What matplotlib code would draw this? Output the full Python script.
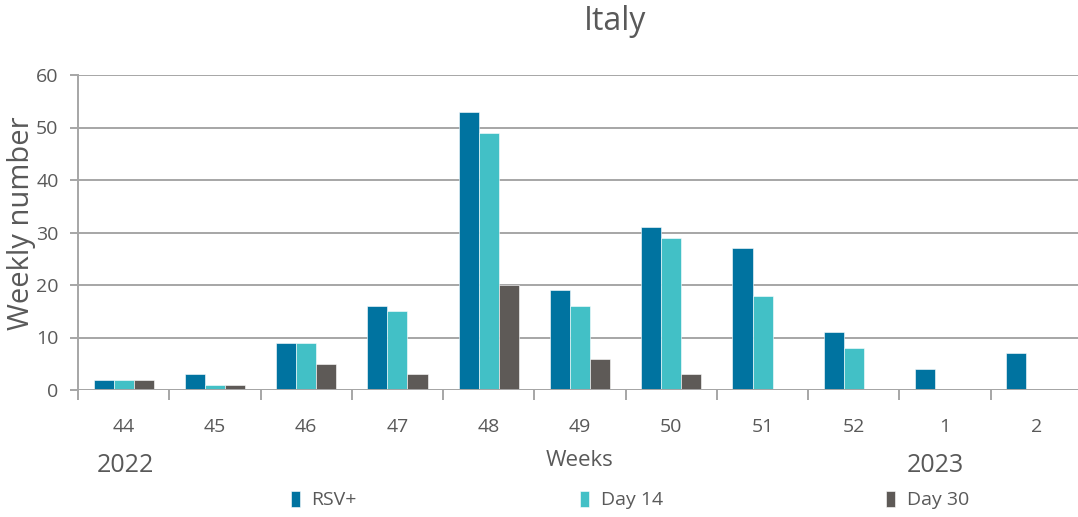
import matplotlib
matplotlib.use("Agg")
import matplotlib.pyplot as plt
import numpy as np

weeks = ["44", "45", "46", "47", "48", "49", "50", "51", "52", "1", "2"]
rsv_pos = [2, 3, 9, 16, 53, 19, 31, 27, 11, 4, 7]
day14 = [2, 1, 9, 15, 49, 16, 29, 18, 8, 0, 0]
day30 = [2, 1, 5, 3, 20, 6, 3, 0, 0, 0, 0]
series_names = ["RSV+", "Day 14", "Day 30"]
colors = ["#0073A0", "#42C0C6", "#5E5A57"]

plt.rcParams['font.family'] = ['Open Sans', 'DejaVu Sans']
txt = "#595959"

fig = plt.figure(figsize=(10.78, 5.17), dpi=100)
W, H = 1078, 517
ax = fig.add_axes([78 / W, 1 - 390 / H, 1004 / W, 315 / H])

x = np.arange(len(weeks))
bw = 0.22
for i, (vals, name, c) in enumerate(zip([rsv_pos, day14, day30], series_names, colors)):
    ax.bar(x + (i - 1) * bw, vals, width=bw, color=c, label=name,
           edgecolor="white", linewidth=0.4, zorder=3)

ax.set_xlim(-0.5, len(weeks) - 0.5)
ax.set_ylim(0, 60)
ax.set_yticks(range(0, 61, 10))
ax.yaxis.grid(True, color="#A6A6A6", linewidth=1.4, zorder=0)
for s in ["top", "right", "bottom"]:
    ax.spines[s].set_visible(False)
ax.spines["left"].set_color("#A6A6A6")
ax.spines["left"].set_linewidth(1.4)
ax.tick_params(axis="y", length=6, color="#A6A6A6", width=1.4, labelsize=14, labelcolor=txt, pad=8)
ax.set_xticks(x)
ax.set_xticklabels(weeks)
ax.tick_params(axis="x", length=0, labelsize=14, labelcolor=txt, pad=20)
ax.set_xticks(np.arange(-0.5, len(weeks)), minor=True)
ax.tick_params(axis="x", which="minor", length=7, color="#A6A6A6", width=1.4)
ax.axhline(0, color="#A6A6A6", linewidth=1.4, zorder=4)

ax.set_ylabel("Weekly number", fontsize=21, color=txt)
ax.yaxis.set_label_coords(-0.042, 0.53)

fig.text(615 / W, 1 - 21 / H, "Italy", fontsize=23, color="#595959", ha="center", va="center")
fig.text(580 / W, 1 - 460 / H, "Weeks", fontsize=16, color=txt, ha="center", va="center")
fig.text(125 / W, 1 - 465 / H, "2022", fontsize=18, color=txt, ha="center", va="center")
fig.text(935 / W, 1 - 465 / H, "2023", fontsize=18, color=txt, ha="center", va="center")

leg = fig.legend(loc="center", bbox_to_anchor=(630 / W, 1 - 500 / H), ncol=3, frameon=False,
                 fontsize=14, handlelength=0.45, handleheight=0.9, handletextpad=0.6,
                 columnspacing=11.5)
for t in leg.get_texts():
    t.set_color(txt)

fig.savefig("out.png", dpi=100)
